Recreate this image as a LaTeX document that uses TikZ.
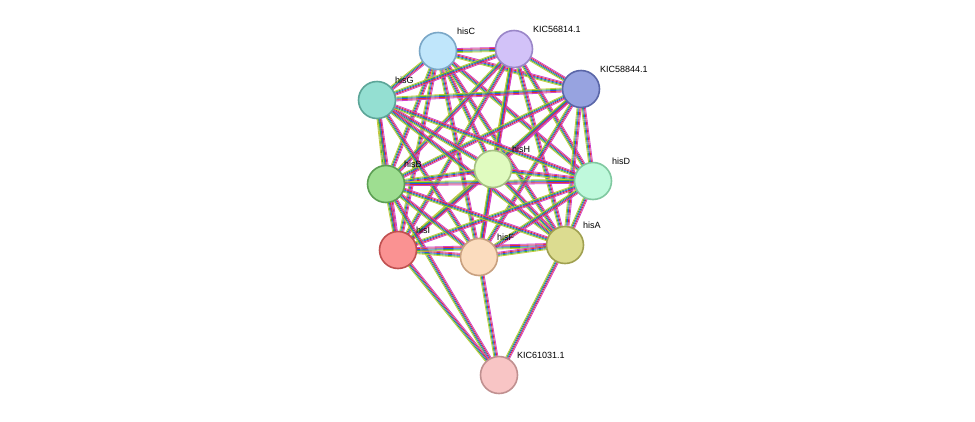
\documentclass[tikz,border=0pt]{standalone}
\usepackage{fontspec}
\setmainfont{Liberation Sans}
\usetikzlibrary{calc,backgrounds}
\definecolor{eA}{HTML}{3CB43C}
\definecolor{eB}{HTML}{3050E0}
\definecolor{eC}{HTML}{C8C83C}
\definecolor{eD}{HTML}{E03030}
\definecolor{eE}{HTML}{D040C8}
\definecolor{fC}{HTML}{C0E6FB}\definecolor{dC}{HTML}{7AA7C7}
\definecolor{fK1}{HTML}{D2C2F8}\definecolor{dK1}{HTML}{9A86C8}
\definecolor{fK2}{HTML}{97A3E0}\definecolor{dK2}{HTML}{5A66A8}
\definecolor{fG}{HTML}{94DFD2}\definecolor{dG}{HTML}{5CA598}
\definecolor{fH}{HTML}{E0FBBF}\definecolor{dH}{HTML}{A5C083}
\definecolor{fD}{HTML}{BFF9DC}\definecolor{dD}{HTML}{80C8A0}
\definecolor{fB}{HTML}{9EDE91}\definecolor{dB}{HTML}{5C9F53}
\definecolor{fI}{HTML}{FA9292}\definecolor{dI}{HTML}{C05050}
\definecolor{fF}{HTML}{FBDCBE}\definecolor{dF}{HTML}{C8A07F}
\definecolor{fA}{HTML}{DCDC90}\definecolor{dA}{HTML}{A0A050}
\definecolor{fK3}{HTML}{F8C5C5}\definecolor{dK3}{HTML}{C09090}
\tikzset{
  prot/.style 2 args={circle,draw=#2,fill=#1,line width=1.6pt,minimum size=37pt,inner sep=0pt},
  lab/.style={font=\small,anchor=south west,inner sep=1pt},
  edge/.style={line width=0.8pt}
}
\newcommand{\bundle}[2]{%
  \foreach \d/\c in {-2/eC,-1/eA,0/eB,1/eD,2/eE}{
    \draw[edge,\c] ($(#1)!\d pt!90:(#2)$) -- ($(#2)!\d pt!-90:(#1)$);
  }}
\begin{document}
\begin{tikzpicture}[x=1pt,y=-1pt]
  \useasboundingbox (0,0) rectangle (975,421);
  % proteins
  \node[prot={fC}{dC}] (hisC) at (438,51) {};
  \node[prot={fK1}{dK1}] (kic1) at (514,49) {};
  \node[prot={fK2}{dK2}] (kic2) at (581,89) {};
  \node[prot={fG}{dG}] (hisG) at (377,100) {};
  \node[prot={fH}{dH}] (hisH) at (493,169) {};
  \node[prot={fD}{dD}] (hisD) at (593,181) {};
  \node[prot={fB}{dB}] (hisB) at (386,184) {};
  \node[prot={fI}{dI}] (hisI) at (398,250) {};
  \node[prot={fF}{dF}] (hisF) at (479,257) {};
  \node[prot={fA}{dA}] (hisA) at (565,245) {};
  \node[prot={fK3}{dK3}] (kic3) at (499,375) {};
  % labels
  \node[lab] at (456,36) {hisC};
  \node[lab] at (532,34) {KIC56814.1};
  \node[lab] at (599,74) {KIC58844.1};
  \node[lab] at (394,85) {hisG};
  \node[lab] at (511,154) {hisH};
  \node[lab] at (611,166) {hisD};
  \node[lab] at (403,169) {hisB};
  \node[lab] at (415,235) {hisI};
  \node[lab] at (496,242) {hisF};
  \node[lab] at (582,230) {hisA};
  \node[lab] at (516,360) {KIC61031.1};
  % interactions
  \begin{pgfonlayer}{background}
    \foreach \a/\rest in {hisC/{kic1,kic2,hisG,hisH,hisD,hisB,hisI,hisF,hisA},
        kic1/{kic2,hisG,hisH,hisD,hisB,hisI,hisF,hisA},
        kic2/{hisG,hisH,hisD,hisB,hisI,hisF,hisA},
        hisG/{hisH,hisD,hisB,hisI,hisF,hisA},
        hisH/{hisD,hisB,hisI,hisF,hisA},
        hisD/{hisB,hisI,hisF,hisA},
        hisB/{hisI,hisF,hisA,kic3},
        hisI/{hisF,hisA,kic3},
        hisF/{hisA,kic3},
        hisA/{kic3}}{
      \foreach \b in \rest {\bundle{\a}{\b}}
    }
  \end{pgfonlayer}
\end{tikzpicture}
\end{document}
